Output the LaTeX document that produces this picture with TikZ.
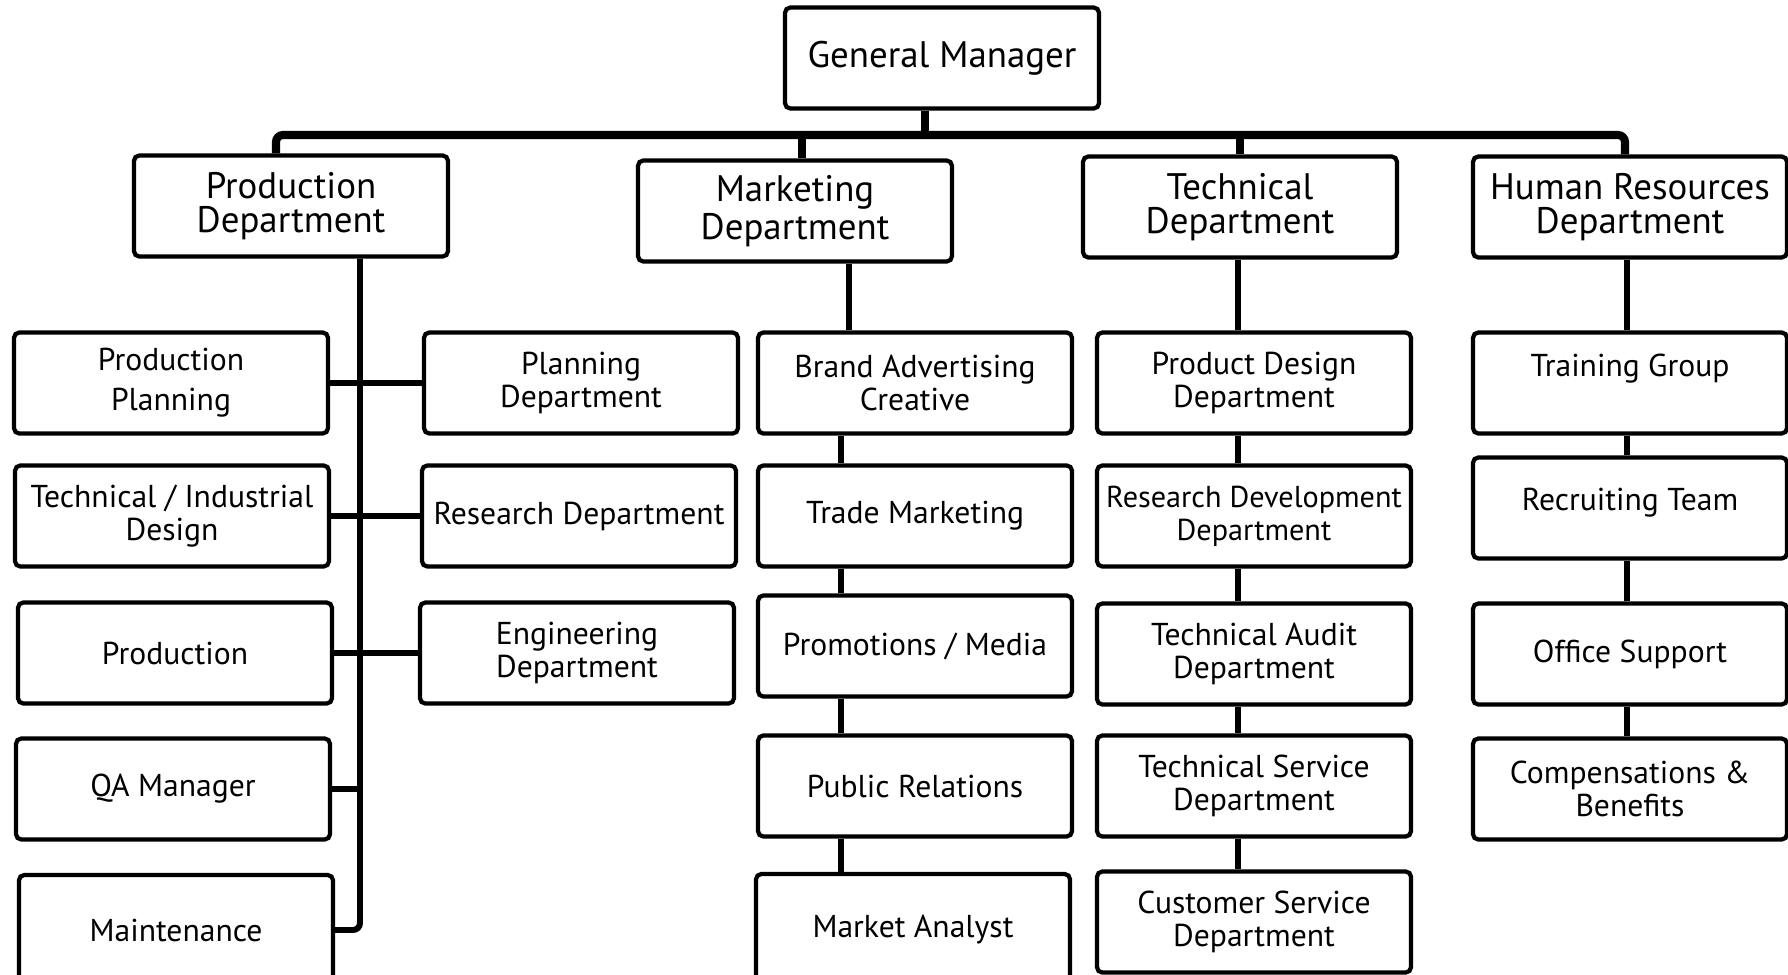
\documentclass[tikz,border=0pt]{standalone}
\usepackage{fontspec}
\setmainfont{PT Sans}
\usepackage{tikz}

\tikzset{
  unit/.style={draw, line width=1.2pt, rounded corners=1.5pt, minimum width=31.4mm,
    minimum height=10.1mm, align=center, inner sep=1pt, font=\fontsize{9}{9.3}\selectfont},
  dept/.style={unit, font=\fontsize{10.5}{9.6}\selectfont},
  hightext/.style={text depth=3.5mm},
  link/.style={line width=1.9pt},
  bus/.style={line width=2.3pt, rounded corners=2pt},
}

\begin{document}
\begin{tikzpicture}[x=0.1mm, y=-0.1mm]
\clip (0,0) rectangle (1788,975);

% top
\node[dept] (gm) at (942,58) {General Manager};
\node[dept] (prod) at (291,206) {Production\\Department};
\node[dept] (mkt) at (795,211) {Marketing\\Department};
\node[dept] (tech) at (1240,207) {Technical\\Department};
\node[dept] (hr) at (1630,207) {Human Resources\\Department};

% production
\node[unit] (pp) at (171,383) {Production\\[2pt]Planning};
\node[unit] (tid) at (172,516) {Technical / Industrial\\Design};
\node[unit] (prodn) at (175,653) {Production};
\node[unit] (qa) at (173,789) {QA Manager};
\node[unit, minimum height=11mm] (maint) at (176,930) {Maintenance};
\node[unit] (plan) at (581,383) {Planning\\Department};
\node[unit] (res) at (579,516) {Research Department};
\node[unit] (eng) at (577,653) {Engineering\\Department};

% marketing
\node[unit] (brand) at (915,383) {Brand Advertising\\Creative};
\node[unit] (trade) at (915,516) {Trade Marketing};
\node[unit] (promo) at (915,646) {Promotions / Media};
\node[unit] (pr) at (915,786) {Public Relations};
\node[unit, minimum height=11mm] (analyst) at (913,929) {Market Analyst};

% technical
\node[unit] (pdd) at (1254,383) {Product Design\\Department};
\node[unit, font=\fontsize{8.6}{9.3}\selectfont] (rdd) at (1254,516) {Research Development\\Department};
\node[unit] (tad) at (1254,654) {Technical Audit\\Department};
\node[unit] (tsd) at (1254,786) {Technical Service\\Department};
\node[unit] (csd) at (1254,922) {Customer Service\\Department};

% human resources
\node[unit, hightext] (train) at (1630,383) {Training Group};
\node[unit, text depth=1.8mm] (recr) at (1630,508) {Recruiting Team};
\node[unit] (office) at (1630,654) {Office Support};
\node[unit] (comp) at (1630,789) {Compensations \&\\Benefits};

\coordinate (busl) at (276,135);
\coordinate (busr) at (1625,135);
\coordinate (gmx) at (925,0);
\coordinate (mkx) at (802,0);
\coordinate (tex) at (1240,0);
\coordinate (pdx) at (360,0);
\coordinate (mdx) at (849,0);
\coordinate (mlx) at (841,0);
\coordinate (tdx) at (1238,0);
\coordinate (hdx) at (1627,0);

% bus
\draw[bus] (prod.north -| busl) -- (busl) -- (busr) -- (hr.north -| busr);
\draw[bus] (gm.south -| gmx) -- (gmx |- busl);
\draw[bus] (mkx |- busl) -- (mkt.north -| mkx);
\draw[bus] (tex |- busl) -- (tech.north -| tex);

% production spine
\draw[link, line width=1.7pt, rounded corners=2pt] (prod.south -| pdx) -- (pdx |- maint.east) -- (maint.east);
\draw[link] (pp) -- (plan);
\draw[link] (tid) -- (res);
\draw[link] (prodn) -- (eng);
\draw[link] (qa.east) -- (qa.east -| pdx);

% chains
\draw[link] (mkt.south -| mdx) -- (brand.north -| mdx)
  (brand.south -| mlx) -- (trade.north -| mlx)
  (trade.south -| mlx) -- (promo.north -| mlx)
  (promo.south -| mlx) -- (pr.north -| mlx)
  (pr.south -| mlx) -- (analyst.north -| mlx);
\draw[link] (tech.south -| tdx) -- (pdd.north -| tdx)
  (pdd.south -| tdx) -- (rdd.north -| tdx)
  (rdd.south -| tdx) -- (tad.north -| tdx)
  (tad.south -| tdx) -- (tsd.north -| tdx)
  (tsd.south -| tdx) -- (csd.north -| tdx);
\draw[link] (hr.south -| hdx) -- (train.north -| hdx)
  (train.south -| hdx) -- (recr.north -| hdx)
  (recr.south -| hdx) -- (office.north -| hdx)
  (office.south -| hdx) -- (comp.north -| hdx);
\end{tikzpicture}
\end{document}
